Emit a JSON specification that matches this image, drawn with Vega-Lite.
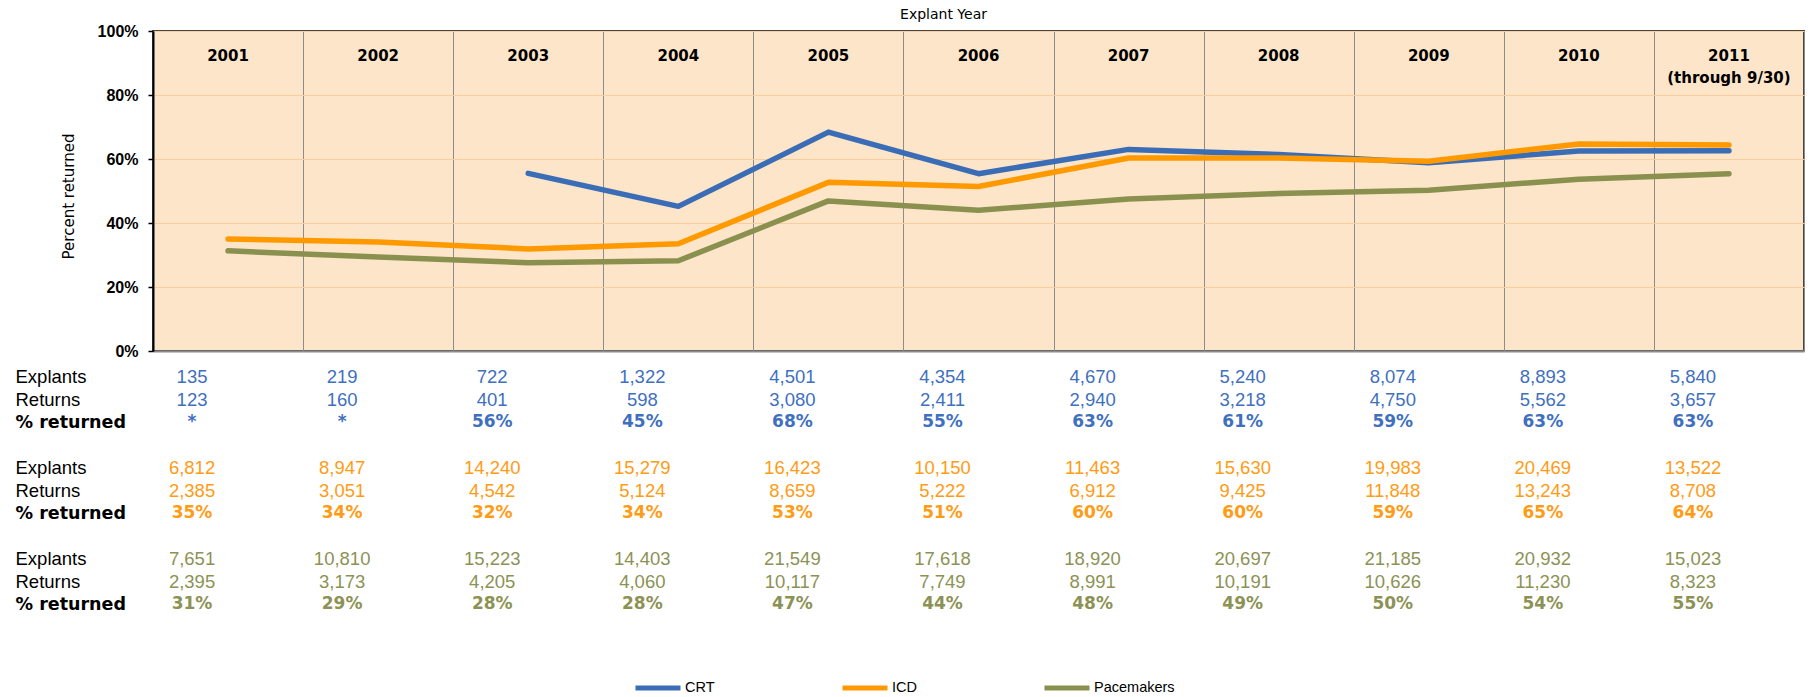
{
  "$schema": "https://vega.github.io/schema/vega-lite/v6.json",
  "padding": {"left": 15, "top": 6, "right": 0, "bottom": 0},
  "background": "white",
  "bounds": "flush",
  "spacing": 14.6,
  "datasets": {
    "lines": [
      {"device": "CRT", "year": "2003", "pct": 0.555},
      {"device": "CRT", "year": "2004", "pct": 0.452},
      {"device": "CRT", "year": "2005", "pct": 0.684},
      {"device": "CRT", "year": "2006", "pct": 0.554},
      {"device": "CRT", "year": "2007", "pct": 0.630},
      {"device": "CRT", "year": "2008", "pct": 0.614},
      {"device": "CRT", "year": "2009", "pct": 0.588},
      {"device": "CRT", "year": "2010", "pct": 0.625},
      {"device": "CRT", "year": "2011", "pct": 0.626},
      {"device": "ICD", "year": "2001", "pct": 0.350},
      {"device": "ICD", "year": "2002", "pct": 0.341},
      {"device": "ICD", "year": "2003", "pct": 0.319},
      {"device": "ICD", "year": "2004", "pct": 0.335},
      {"device": "ICD", "year": "2005", "pct": 0.527},
      {"device": "ICD", "year": "2006", "pct": 0.514},
      {"device": "ICD", "year": "2007", "pct": 0.603},
      {"device": "ICD", "year": "2008", "pct": 0.603},
      {"device": "ICD", "year": "2009", "pct": 0.593},
      {"device": "ICD", "year": "2010", "pct": 0.647},
      {"device": "ICD", "year": "2011", "pct": 0.644},
      {"device": "Pacemakers", "year": "2001", "pct": 0.313},
      {"device": "Pacemakers", "year": "2002", "pct": 0.294},
      {"device": "Pacemakers", "year": "2003", "pct": 0.276},
      {"device": "Pacemakers", "year": "2004", "pct": 0.282},
      {"device": "Pacemakers", "year": "2005", "pct": 0.469},
      {"device": "Pacemakers", "year": "2006", "pct": 0.440},
      {"device": "Pacemakers", "year": "2007", "pct": 0.475},
      {"device": "Pacemakers", "year": "2008", "pct": 0.492},
      {"device": "Pacemakers", "year": "2009", "pct": 0.502},
      {"device": "Pacemakers", "year": "2010", "pct": 0.537},
      {"device": "Pacemakers", "year": "2011", "pct": 0.554}
    ],
    "cells": [
      {"d": "CRT", "y": "2001", "r": "CRT|Explants", "t": "135"},
      {"d": "CRT", "y": "2002", "r": "CRT|Explants", "t": "219"},
      {"d": "CRT", "y": "2003", "r": "CRT|Explants", "t": "722"},
      {"d": "CRT", "y": "2004", "r": "CRT|Explants", "t": "1,322"},
      {"d": "CRT", "y": "2005", "r": "CRT|Explants", "t": "4,501"},
      {"d": "CRT", "y": "2006", "r": "CRT|Explants", "t": "4,354"},
      {"d": "CRT", "y": "2007", "r": "CRT|Explants", "t": "4,670"},
      {"d": "CRT", "y": "2008", "r": "CRT|Explants", "t": "5,240"},
      {"d": "CRT", "y": "2009", "r": "CRT|Explants", "t": "8,074"},
      {"d": "CRT", "y": "2010", "r": "CRT|Explants", "t": "8,893"},
      {"d": "CRT", "y": "2011", "r": "CRT|Explants", "t": "5,840"},
      {"d": "CRT", "y": "2001", "r": "CRT|Returns", "t": "123"},
      {"d": "CRT", "y": "2002", "r": "CRT|Returns", "t": "160"},
      {"d": "CRT", "y": "2003", "r": "CRT|Returns", "t": "401"},
      {"d": "CRT", "y": "2004", "r": "CRT|Returns", "t": "598"},
      {"d": "CRT", "y": "2005", "r": "CRT|Returns", "t": "3,080"},
      {"d": "CRT", "y": "2006", "r": "CRT|Returns", "t": "2,411"},
      {"d": "CRT", "y": "2007", "r": "CRT|Returns", "t": "2,940"},
      {"d": "CRT", "y": "2008", "r": "CRT|Returns", "t": "3,218"},
      {"d": "CRT", "y": "2009", "r": "CRT|Returns", "t": "4,750"},
      {"d": "CRT", "y": "2010", "r": "CRT|Returns", "t": "5,562"},
      {"d": "CRT", "y": "2011", "r": "CRT|Returns", "t": "3,657"},
      {"d": "CRT", "y": "2001", "r": "CRT|% returned", "t": "*"},
      {"d": "CRT", "y": "2002", "r": "CRT|% returned", "t": "*"},
      {"d": "CRT", "y": "2003", "r": "CRT|% returned", "t": "56%"},
      {"d": "CRT", "y": "2004", "r": "CRT|% returned", "t": "45%"},
      {"d": "CRT", "y": "2005", "r": "CRT|% returned", "t": "68%"},
      {"d": "CRT", "y": "2006", "r": "CRT|% returned", "t": "55%"},
      {"d": "CRT", "y": "2007", "r": "CRT|% returned", "t": "63%"},
      {"d": "CRT", "y": "2008", "r": "CRT|% returned", "t": "61%"},
      {"d": "CRT", "y": "2009", "r": "CRT|% returned", "t": "59%"},
      {"d": "CRT", "y": "2010", "r": "CRT|% returned", "t": "63%"},
      {"d": "CRT", "y": "2011", "r": "CRT|% returned", "t": "63%"},
      {"d": "ICD", "y": "2001", "r": "ICD|Explants", "t": "6,812"},
      {"d": "ICD", "y": "2002", "r": "ICD|Explants", "t": "8,947"},
      {"d": "ICD", "y": "2003", "r": "ICD|Explants", "t": "14,240"},
      {"d": "ICD", "y": "2004", "r": "ICD|Explants", "t": "15,279"},
      {"d": "ICD", "y": "2005", "r": "ICD|Explants", "t": "16,423"},
      {"d": "ICD", "y": "2006", "r": "ICD|Explants", "t": "10,150"},
      {"d": "ICD", "y": "2007", "r": "ICD|Explants", "t": "11,463"},
      {"d": "ICD", "y": "2008", "r": "ICD|Explants", "t": "15,630"},
      {"d": "ICD", "y": "2009", "r": "ICD|Explants", "t": "19,983"},
      {"d": "ICD", "y": "2010", "r": "ICD|Explants", "t": "20,469"},
      {"d": "ICD", "y": "2011", "r": "ICD|Explants", "t": "13,522"},
      {"d": "ICD", "y": "2001", "r": "ICD|Returns", "t": "2,385"},
      {"d": "ICD", "y": "2002", "r": "ICD|Returns", "t": "3,051"},
      {"d": "ICD", "y": "2003", "r": "ICD|Returns", "t": "4,542"},
      {"d": "ICD", "y": "2004", "r": "ICD|Returns", "t": "5,124"},
      {"d": "ICD", "y": "2005", "r": "ICD|Returns", "t": "8,659"},
      {"d": "ICD", "y": "2006", "r": "ICD|Returns", "t": "5,222"},
      {"d": "ICD", "y": "2007", "r": "ICD|Returns", "t": "6,912"},
      {"d": "ICD", "y": "2008", "r": "ICD|Returns", "t": "9,425"},
      {"d": "ICD", "y": "2009", "r": "ICD|Returns", "t": "11,848"},
      {"d": "ICD", "y": "2010", "r": "ICD|Returns", "t": "13,243"},
      {"d": "ICD", "y": "2011", "r": "ICD|Returns", "t": "8,708"},
      {"d": "ICD", "y": "2001", "r": "ICD|% returned", "t": "35%"},
      {"d": "ICD", "y": "2002", "r": "ICD|% returned", "t": "34%"},
      {"d": "ICD", "y": "2003", "r": "ICD|% returned", "t": "32%"},
      {"d": "ICD", "y": "2004", "r": "ICD|% returned", "t": "34%"},
      {"d": "ICD", "y": "2005", "r": "ICD|% returned", "t": "53%"},
      {"d": "ICD", "y": "2006", "r": "ICD|% returned", "t": "51%"},
      {"d": "ICD", "y": "2007", "r": "ICD|% returned", "t": "60%"},
      {"d": "ICD", "y": "2008", "r": "ICD|% returned", "t": "60%"},
      {"d": "ICD", "y": "2009", "r": "ICD|% returned", "t": "59%"},
      {"d": "ICD", "y": "2010", "r": "ICD|% returned", "t": "65%"},
      {"d": "ICD", "y": "2011", "r": "ICD|% returned", "t": "64%"},
      {"d": "Pacemakers", "y": "2001", "r": "PM|Explants", "t": "7,651"},
      {"d": "Pacemakers", "y": "2002", "r": "PM|Explants", "t": "10,810"},
      {"d": "Pacemakers", "y": "2003", "r": "PM|Explants", "t": "15,223"},
      {"d": "Pacemakers", "y": "2004", "r": "PM|Explants", "t": "14,403"},
      {"d": "Pacemakers", "y": "2005", "r": "PM|Explants", "t": "21,549"},
      {"d": "Pacemakers", "y": "2006", "r": "PM|Explants", "t": "17,618"},
      {"d": "Pacemakers", "y": "2007", "r": "PM|Explants", "t": "18,920"},
      {"d": "Pacemakers", "y": "2008", "r": "PM|Explants", "t": "20,697"},
      {"d": "Pacemakers", "y": "2009", "r": "PM|Explants", "t": "21,185"},
      {"d": "Pacemakers", "y": "2010", "r": "PM|Explants", "t": "20,932"},
      {"d": "Pacemakers", "y": "2011", "r": "PM|Explants", "t": "15,023"},
      {"d": "Pacemakers", "y": "2001", "r": "PM|Returns", "t": "2,395"},
      {"d": "Pacemakers", "y": "2002", "r": "PM|Returns", "t": "3,173"},
      {"d": "Pacemakers", "y": "2003", "r": "PM|Returns", "t": "4,205"},
      {"d": "Pacemakers", "y": "2004", "r": "PM|Returns", "t": "4,060"},
      {"d": "Pacemakers", "y": "2005", "r": "PM|Returns", "t": "10,117"},
      {"d": "Pacemakers", "y": "2006", "r": "PM|Returns", "t": "7,749"},
      {"d": "Pacemakers", "y": "2007", "r": "PM|Returns", "t": "8,991"},
      {"d": "Pacemakers", "y": "2008", "r": "PM|Returns", "t": "10,191"},
      {"d": "Pacemakers", "y": "2009", "r": "PM|Returns", "t": "10,626"},
      {"d": "Pacemakers", "y": "2010", "r": "PM|Returns", "t": "11,230"},
      {"d": "Pacemakers", "y": "2011", "r": "PM|Returns", "t": "8,323"},
      {"d": "Pacemakers", "y": "2001", "r": "PM|% returned", "t": "31%"},
      {"d": "Pacemakers", "y": "2002", "r": "PM|% returned", "t": "29%"},
      {"d": "Pacemakers", "y": "2003", "r": "PM|% returned", "t": "28%"},
      {"d": "Pacemakers", "y": "2004", "r": "PM|% returned", "t": "28%"},
      {"d": "Pacemakers", "y": "2005", "r": "PM|% returned", "t": "47%"},
      {"d": "Pacemakers", "y": "2006", "r": "PM|% returned", "t": "44%"},
      {"d": "Pacemakers", "y": "2007", "r": "PM|% returned", "t": "48%"},
      {"d": "Pacemakers", "y": "2008", "r": "PM|% returned", "t": "49%"},
      {"d": "Pacemakers", "y": "2009", "r": "PM|% returned", "t": "50%"},
      {"d": "Pacemakers", "y": "2010", "r": "PM|% returned", "t": "54%"},
      {"d": "Pacemakers", "y": "2011", "r": "PM|% returned", "t": "55%"}
    ]
  },
  "vconcat": [
    {
      "width": 1651,
      "height": 320,
      "view": {"fill": "#FCE5C9", "stroke": "#454545", "strokeWidth": 2},
      "data": {"name": "lines"},
      "encoding": {
        "y": {
          "field": "pct",
          "type": "quantitative",
          "scale": {"domain": [0, 1], "nice": false},
          "axis": {
            "values": [0, 0.2, 0.4, 0.6, 0.8, 1],
            "format": ".0%",
            "labelFont": "Liberation Sans",
            "labelFontWeight": "bold",
            "labelFontSize": 16,
            "labelColor": "#000000",
            "labelPadding": 10,
            "tickSize": 5,
            "tickColor": "#000000",
            "tickWidth": 1.5,
            "domainColor": "#000000",
            "domainWidth": 2,
            "gridColor": "#F9CE9C",
            "gridWidth": 1,
            "title": "Percent returned",
            "titleFont": "DejaVu Sans",
            "titleFontWeight": "normal",
            "titleFontSize": 15,
            "titleColor": "#000000",
            "titleX": -85,
            "titleY": 165,
            "titleAngle": -90,
            "titleAlign": "center",
            "titleBaseline": "middle"
          }
        }
      },
      "layer": [
        {
          "mark": {"type": "point", "opacity": 0},
          "encoding": {
            "x": {
              "field": "year",
              "type": "ordinal",
              "scale": {"domain": ["2001","2002","2003","2004","2005","2006","2007","2008","2009","2010","2011"], "paddingInner": 0, "paddingOuter": 0},
              "axis": {
                "orient": "bottom",
                "tickBand": "extent",
                "grid": true,
                "gridColor": "#8C8C8C",
                "gridWidth": 1,
                "labels": false,
                "ticks": false,
                "domain": true,
                "domainColor": "#8C8C8C",
                "domainWidth": 2,
                "title": null
              }
            }
          }
        },
        {
          "mark": {"type": "line", "strokeWidth": 5.5, "strokeCap": "round", "strokeJoin": "round"},
          "encoding": {
            "x": {
              "field": "year",
              "type": "ordinal",
              "scale": {"domain": ["2001","2002","2003","2004","2005","2006","2007","2008","2009","2010","2011"], "paddingInner": 0, "paddingOuter": 0},
              "axis": {
                "orient": "top",
                "grid": false,
                "domain": false,
                "ticks": false,
                "tickSize": 0,
                "labelPadding": -17.5,
                "labelBaseline": "top",
                "labelAngle": 0,
                "labelFont": "DejaVu Sans",
                "labelFontWeight": "bold",
                "labelFontSize": 15,
                "labelColor": "#000000",
                "labelLineHeight": 22,
                "labelExpr": "datum.value == '2011' ? ['2011', '(through 9/30)'] : datum.value",
                "title": "Explant Year",
                "titleFont": "DejaVu Sans",
                "titleFontWeight": "normal",
                "titleFontSize": 14,
                "titleColor": "#000000",
                "titleX": 790,
                "titleY": -17,
                "titleAlign": "center",
                "titleBaseline": "middle",
                "titleAngle": 0
              }
            },
            "color": {
              "field": "device",
              "type": "nominal",
              "scale": {"domain": ["CRT", "ICD", "Pacemakers"], "range": ["#3A6DB5", "#FF9900", "#8A914F"]},
              "legend": {
                "orient": "none",
                "legendX": 480,
                "legendY": 632,
                "direction": "horizontal",
                "title": null,
                "symbolType": "stroke",
                "symbolSize": 2025,
                "symbolStrokeWidth": 5,
                "labelFont": "Liberation Sans",
                "labelFontSize": 14.5,
                "labelColor": "#000000",
                "labelOffset": 2,
                "columnPadding": 117
              }
            }
          }
        }
      ],
      "resolve": {"axis": {"x": "independent"}}
    },
    {
      "width": 1651,
      "height": 250,
      "view": {"stroke": null, "fill": null},
      "data": {"name": "cells"},
      "encoding": {
        "x": {
          "field": "y",
          "type": "ordinal",
          "scale": {"domain": ["2001","2002","2003","2004","2005","2006","2007","2008","2009","2010","2011"], "paddingInner": 0, "paddingOuter": 0},
          "axis": null
        },
        "y": {
          "field": "r",
          "type": "ordinal",
          "scale": {
            "domain": ["CRT|Explants","CRT|Returns","CRT|% returned","gap1","ICD|Explants","ICD|Returns","ICD|% returned","gap2","PM|Explants","PM|Returns","PM|% returned"],
            "paddingInner": 0,
            "paddingOuter": 0
          },
          "axis": {
            "title": null,
            "domain": false,
            "ticks": false,
            "tickSize": 0,
            "grid": false,
            "labelAlign": "left",
            "labelPadding": 138,
            "labelColor": "#000000",
            "labelExpr": "indexof(datum.value, '|') >= 0 ? split(datum.value, '|')[1] : ''",
            "labelFont": {"condition": {"test": "indexof(datum.value, '%') >= 0", "value": "DejaVu Sans"}, "value": "Liberation Sans"},
            "labelFontWeight": {"condition": {"test": "indexof(datum.value, '%') >= 0", "value": "bold"}, "value": "normal"},
            "labelFontSize": {"condition": {"test": "indexof(datum.value, '%') >= 0", "value": 17.5}, "value": 18.5}
          }
        },
        "fill": {
          "field": "d",
          "type": "nominal",
          "scale": {"domain": ["CRT", "ICD", "Pacemakers"], "range": ["#3F70BF", "#FF9B14", "#8C9254"]},
          "legend": null
        },
        "text": {"field": "t"}
      },
      "layer": [
        {
          "transform": [{"filter": "indexof(datum.r, '%') < 0"}],
          "mark": {"type": "text", "font": "Liberation Sans", "fontSize": 18.5, "dx": -36}
        },
        {
          "transform": [{"filter": "indexof(datum.r, '%') >= 0"}],
          "mark": {"type": "text", "font": "DejaVu Sans", "fontWeight": "bold", "fontSize": 17, "dx": -36}
        }
      ]
    }
  ]
}
